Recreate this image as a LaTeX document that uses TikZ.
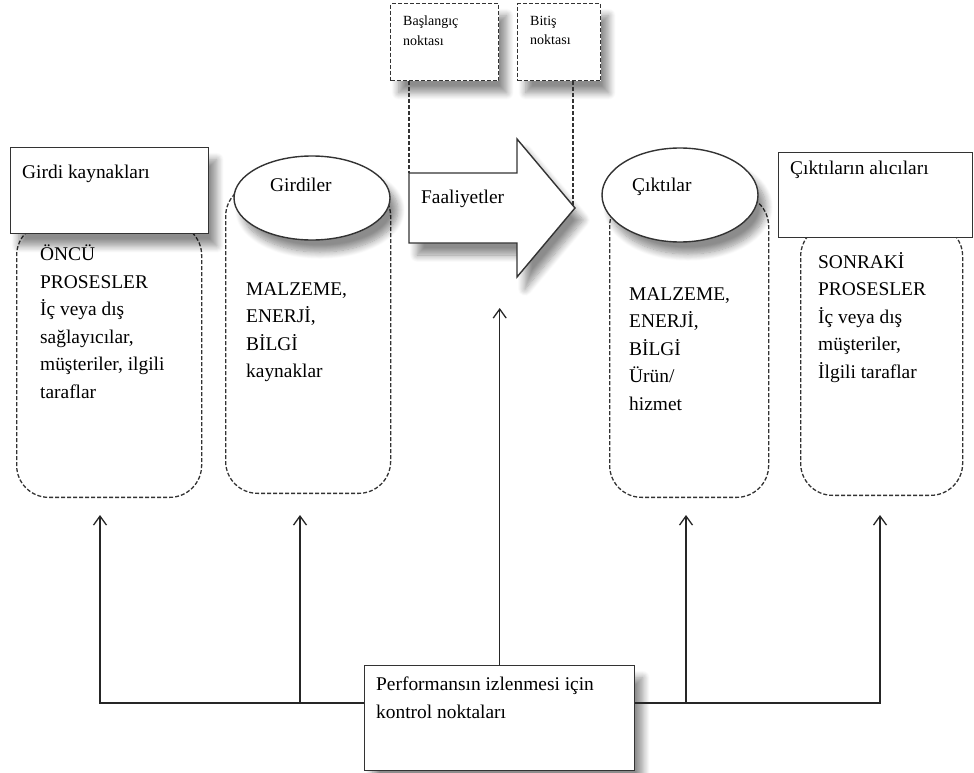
\documentclass[tikz,border=0pt]{standalone}
\usepackage{fontspec}
\setmainfont{Liberation Serif}
\usetikzlibrary{shapes.geometric,arrows.meta,shadows.blur}

\tikzset{
	kutu/.style={draw=black!80, line width=1.4pt, fill=white},
	kesik/.style={draw=black!80, line width=1.3pt, dash pattern=on 4pt off 2pt},
	surec/.style={kesik, rounded corners=32pt},
	golge/.style={blur shadow={shadow xshift=8pt, shadow yshift=-12pt, shadow opacity=45, shadow blur radius=7pt, shadow blur steps=10}},
	yazi/.style={font=\fontsize{19.4}{27.5}\selectfont, align=left, inner sep=0pt, anchor=north west, execute at begin node=\strut},
	minik/.style={font=\fontsize{14}{19.5}\selectfont, align=left, inner sep=0pt, anchor=north west, execute at begin node=\strut},
	yukari/.style={draw=black!85, line width=1.3pt, -{Straight Barb[length=9pt,width=13pt]}}
}

\begin{document}
\begin{tikzpicture}[x=1pt, y=-1pt]
\useasboundingbox (0,0) rectangle (974,773);

\foreach \x/\y/\w/\h/\ad in {
	16/498/185/274/oncu,
	225/494/165/309/girdikutu,
	609/498/159/303/ciktikutu,
	800/496/162/271/sonraki
	} {
	\node [surec, minimum width=\w pt, minimum height=\h pt, anchor=south west, inner sep=0pt] (\ad) at (\x,\y) {};
}

\node [kutu, golge, minimum width=198pt, minimum height=86pt, anchor=north west] (kaynak) at (10,147) {};
\node [kutu, minimum width=194pt, minimum height=85pt, anchor=north west] (alici) at (778,152) {};
\node [kutu, golge, ellipse, minimum width=156pt, minimum height=84pt] (girdiler) at (312,198) {};
\node [kutu, golge, ellipse, minimum width=156pt, minimum height=94pt] (ciktilar) at (680,195) {};
\node [kesik, fill=white, golge, minimum width=108pt, minimum height=77pt, anchor=north west] (bas) at (390,3) {};
\node [kesik, fill=white, golge, minimum width=83pt, minimum height=77pt, anchor=north west] (bit) at (517,3) {};
\node [kutu, golge, minimum width=270pt, minimum height=105pt, anchor=north west] (izleme) at (364,665) {};

\draw [kutu, golge] (409,173) coordinate (ok1) -- (517,173) -- (517,139) -- (575,208) -- (517,277) -- (517,243) -- (409,243) -- cycle;
\coordinate (ok2) at (573,205);
\draw [kesik] ([xshift=19pt]bas.south west) -- (ok1);
\draw [kesik] ([xshift=56pt]bit.south west) -- (ok2);

\node [minik] (basyazi) at (403,16) {Başlangıç\\noktası};
\node [minik] (bityazi) at (530,16) {Bitiş\\noktası};
\node [yazi] (kaynakyazi) at (22,159) {Girdi kaynakları};
\node [yazi] (oncuyazi) at (40,245) {ÖNCÜ\\PROSESLER\\İç veya dış\\sağlayıcılar,\\müşteriler, ilgili\\taraflar};
\node [yazi, anchor=west] (girdiad) at (270,186) {Girdiler};
\node [yazi] (girdiyazi) at (246,282) {MALZEME,\\ENERJİ,\\BİLGİ\\kaynaklar};
\node [yazi, anchor=west] (faaliyet) at (421,198) {Faaliyetler};
\node [yazi, anchor=west] (ciktiad) at (632,186) {Çıktılar};
\node [yazi] (ciktiyazi) at (629,287) {MALZEME,\\ENERJİ,\\BİLGİ\\Ürün/\\hizmet};
\node [yazi] (aliciyazi) at (790,155) {Çıktıların alıcıları};
\node [yazi] (sonyazi) at (818,252) {SONRAKİ\\PROSESLER\\İç veya dış\\müşteriler,\\İlgili taraflar};
\node [yazi] (izlemeyazi) at (376,677) {Performansın izlenmesi için\\kontrol noktaları};

\foreach \x/\ad in {100/u1, 300/u2, 686/u3, 880/u4} {
	\coordinate (\ad) at (\x,515);
}
\coordinate (hat) at (0,703);
\coordinate (akis) at (izleme.north |- 0,308);
\draw [yukari] (izleme.west |- hat) -| (u1);
\draw [yukari] (u2 |- hat) -- (u2);
\draw [yukari] (izleme.east |- hat) -| (u4);
\draw [yukari] (u3 |- hat) -- (u3);
\draw [yukari] (izleme.north) -- (akis);
\end{tikzpicture}
\end{document}
